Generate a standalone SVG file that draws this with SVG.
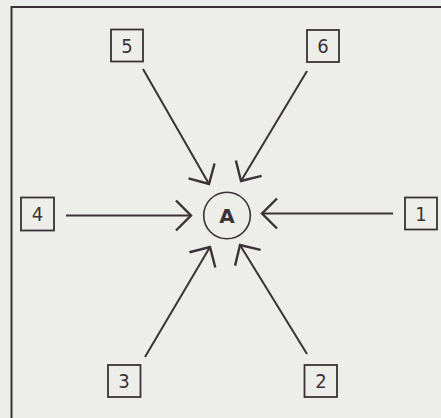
<svg xmlns="http://www.w3.org/2000/svg" width="441" height="418" viewBox="0 0 441 418">
<defs>
<style>
.box{fill:none;stroke:#3a3236;stroke-width:1.8}
.num{font-family:"DejaVu Sans Condensed","Liberation Sans Narrow","Liberation Sans",sans-serif;font-size:20px;fill:#3a3236;text-anchor:middle}
.conn{stroke:#3a3236;stroke-width:2;fill:none;marker-end:url(#arr)}
</style>
<marker id="arr" markerUnits="userSpaceOnUse" markerWidth="34" markerHeight="34" viewBox="-17 -17 34 34" refX="0" refY="0" orient="auto" overflow="visible">
<path d="M-15,-15 L0,0 L-15,15" fill="none" stroke="#3a3236" stroke-width="2.4" stroke-linejoin="miter"/>
</marker>
</defs>
<rect x="0" y="0" width="441" height="418" fill="#edede9"/>
<path d="M11.5,420 L11.5,7 L445,7" fill="none" stroke="#3a3236" stroke-width="2"/>
<g id="connectors">
<line class="conn" x1="66" y1="215.5" x2="191" y2="215.5"/>
<line class="conn" x1="393" y1="213.5" x2="262" y2="213.5"/>
<line class="conn" x1="143" y1="69" x2="209" y2="184"/>
<line class="conn" x1="307" y1="71" x2="241" y2="181"/>
<line class="conn" x1="145" y1="357" x2="210" y2="247"/>
<line class="conn" x1="307" y1="354" x2="240" y2="245"/>
</g>
<g id="nodeA">
<circle cx="227" cy="215.5" r="23.3" fill="none" stroke="#3a3236" stroke-width="1.6"/>
<text x="227" y="223" font-family="'DejaVu Sans','Liberation Sans',sans-serif" font-size="20" font-weight="bold" fill="#3a3236" text-anchor="middle">A</text>
</g>
<g id="node1"><rect class="box" x="405" y="197.5" width="32" height="32"/><text class="num" x="421" y="220.5">1</text></g>
<g id="node2"><rect class="box" x="304.5" y="365" width="32.5" height="32"/><text class="num" x="321" y="388">2</text></g>
<g id="node3"><rect class="box" x="108" y="365" width="32.5" height="32"/><text class="num" x="124" y="388">3</text></g>
<g id="node4"><rect class="box" x="21" y="197.5" width="33" height="33"/><text class="num" x="37.5" y="221">4</text></g>
<g id="node5"><rect class="box" x="111" y="29.5" width="32" height="32"/><text class="num" x="127" y="52.5">5</text></g>
<g id="node6"><rect class="box" x="307" y="30" width="32" height="32"/><text class="num" x="323" y="53">6</text></g>
</svg>
